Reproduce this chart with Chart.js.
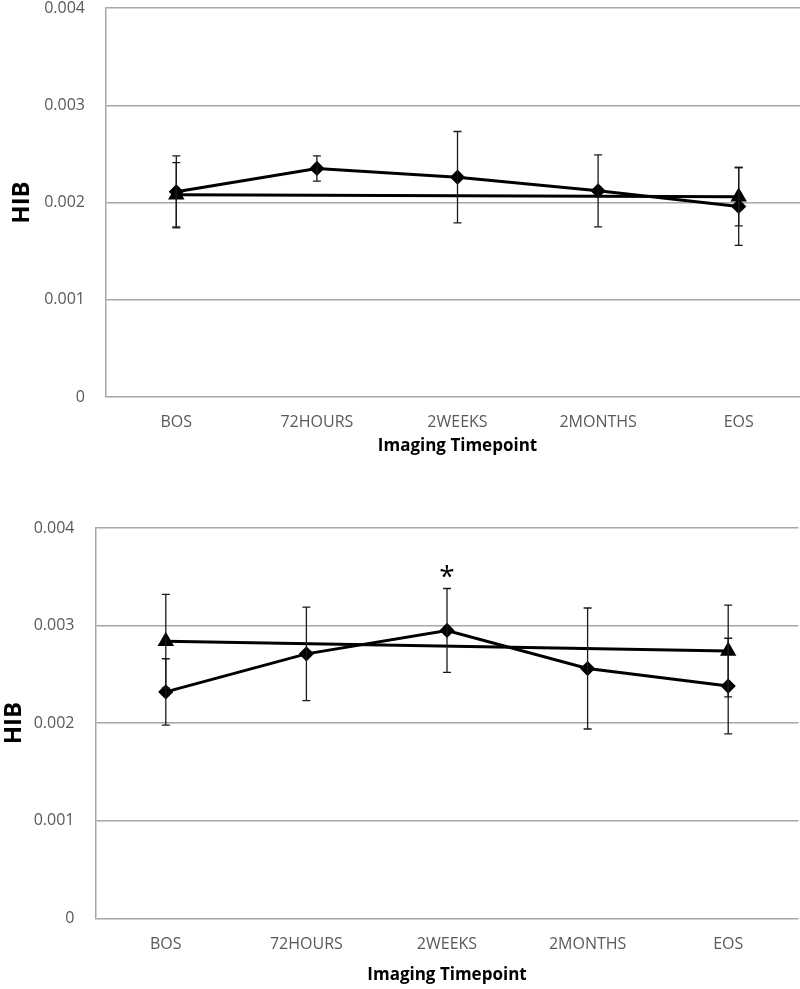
<!DOCTYPE html>
<html lang="en">

<head>
    <meta charset="UTF-8" />
    <title>HIB by imaging timepoint</title>
    <script src="https://cdn.jsdelivr.net/npm/chart.js"></script>
    <style>
        html, body {
            margin: 0;
            padding: 0;
            background: #ffffff;
            overflow: hidden;
        }

        .stage {
            position: relative;
            width: 800px;
            height: 989px;
            overflow: hidden;
        }

        #chartTop {
            position: absolute;
            left: 0;
            top: 0;
        }

        #chartBottom {
            position: absolute;
            left: 0;
            top: 495px;
        }
    </style>
</head>

<body>
    <div class="stage">
        <canvas id="chartTop" width="812" height="460"></canvas>
        <canvas id="chartBottom" width="800" height="494"></canvas>
    </div>

    <script>
        // categorias e valores
        const timepoints = ["BOS", "72HOURS", "2WEEKS", "2MONTHS", "EOS"];
        const yTicks = [0, 0.001, 0.002, 0.003, 0.004];

        // painel de cima
        const hibTop = [0.00211, 0.00235, 0.00226, 0.00212, 0.00196];
        const hibTopErr = [0.00037, 0.00013, 0.00047, 0.00037, 0.00040];
        const ctrlTop = [0.00208, null, null, null, 0.00206];
        const ctrlTopErr = [0.00033, null, null, null, 0.00030];

        // painel de baixo
        const hibBottom = [0.00232, 0.00271, 0.00295, 0.00256, 0.00238];
        const hibBottomErr = [0.00034, 0.00048, 0.00043, 0.00062, 0.00049];
        const ctrlBottom = [0.00284, null, null, null, 0.00274];
        const ctrlBottomErr = [0.00048, null, null, null, 0.00047];
        const sigBottom = ["", "", "*", "", ""];

        const FONT = "'Open Sans', 'Liberation Sans', sans-serif";

        // barras de erro (com "tampas") desenhadas pelas escalas do gráfico
        const errorBarsPlugin = {
            id: "errorBars",
            afterDatasetsDraw(chart) {
                const ctx = chart.ctx;
                const y = chart.scales.y;
                ctx.save();
                ctx.strokeStyle = "#1a1a1a";
                ctx.lineWidth = 1.3;
                chart.data.datasets.forEach((ds, i) => {
                    if (!ds.errors) return;
                    const meta = chart.getDatasetMeta(i);
                    ds.data.forEach((v, j) => {
                        const e = ds.errors[j];
                        if (v === null || e === null) return;
                        const x = meta.data[j].x;
                        const yHi = y.getPixelForValue(v + e);
                        const yLo = y.getPixelForValue(v - e);
                        ctx.beginPath();
                        ctx.moveTo(x, yHi);
                        ctx.lineTo(x, yLo);
                        ctx.moveTo(x - 4, yHi);
                        ctx.lineTo(x + 4, yHi);
                        ctx.moveTo(x - 4, yLo);
                        ctx.lineTo(x + 4, yLo);
                        ctx.stroke();
                    });
                });
                ctx.restore();
            }
        };

        // asterisco de significância acima da barra de erro
        const sigPlugin = {
            id: "sigMarks",
            afterDatasetsDraw(chart) {
                const marks = chart.options.plugins.sigMarks.marks;
                if (!marks) return;
                const ds = chart.data.datasets[0];
                const meta = chart.getDatasetMeta(0);
                const y = chart.scales.y;
                const ctx = chart.ctx;
                ctx.save();
                ctx.fillStyle = "#000";
                ctx.font = "28px " + FONT;
                ctx.textAlign = "center";
                ctx.textBaseline = "middle";
                marks.forEach((m, j) => {
                    if (!m) return;
                    const top = y.getPixelForValue(ds.data[j] + ds.errors[j]);
                    ctx.fillText(m, meta.data[j].x, top - 10);
                });
                ctx.restore();
            }
        };

        function makePanel(id, hib, hibErr, ctrl, ctrlErr, opts) {
            const ctx = document.getElementById(id).getContext("2d");
            return new Chart(ctx, {
                type: "line",
                data: {
                    labels: timepoints,
                    datasets: [{
                        label: "HIB",
                        data: hib,
                        errors: hibErr,
                        borderColor: "#000",
                        backgroundColor: "#000",
                        borderWidth: 3,
                        pointStyle: "rectRot",
                        pointRadius: 5.5,
                        tension: 0
                    }, {
                        label: "Control",
                        data: ctrl,
                        errors: ctrlErr,
                        borderColor: "#000",
                        backgroundColor: "#000",
                        borderWidth: 3,
                        pointStyle: "triangle",
                        pointRadius: 6.5,
                        spanGaps: true,
                        tension: 0
                    }]
                },
                options: {
                    responsive: false,
                    animation: false,
                    devicePixelRatio: 1,
                    layout: {
                        autoPadding: false,
                        padding: { top: opts.padTop, right: opts.padRight, left: 0, bottom: 0 }
                    },
                    plugins: {
                        legend: { display: false },
                        tooltip: { enabled: false },
                        sigMarks: { marks: opts.marks || null }
                    },
                    scales: {
                        x: {
                            offset: true,
                            grid: { display: false, drawTicks: false, offset: true },
                            border: { display: false },
                            ticks: {
                                color: "#595959",
                                font: { family: FONT, size: 16 },
                                padding: opts.xTickPad,
                                maxRotation: 0
                            },
                            title: {
                                display: true,
                                text: "Imaging Timepoint",
                                color: "#000",
                                font: { family: FONT, size: 17, weight: "bold" },
                                padding: { top: 4, bottom: 4 }
                            },
                            afterFit: (s) => {
                                s.height = opts.xHeight;
                                s.paddingLeft = 0;
                                s.paddingRight = 0;
                            }
                        },
                        y: {
                            min: yTicks[0],
                            max: yTicks[yTicks.length - 1],
                            afterBuildTicks: (s) => { s.ticks = yTicks.map(v => ({ value: v })); },
                            grid: { color: "#a6a6a6", lineWidth: 1.5, drawTicks: false },
                            border: { display: true, color: "#a6a6a6", width: 1.5 },
                            ticks: {
                                color: "#595959",
                                font: { family: FONT, size: 16 },
                                padding: 21,
                                callback: (v) => v === 0 ? "0" : v.toFixed(3)
                            },
                            title: {
                                display: true,
                                text: "HIB",
                                color: "#000",
                                font: { family: FONT, size: 24, weight: "bold" },
                                padding: { top: opts.yTitlePad, bottom: 0 }
                            },
                            afterFit: (s) => {
                                s.width = opts.yWidth;
                                s.paddingTop = 0;
                                s.paddingBottom = 0;
                            }
                        }
                    }
                },
                plugins: [errorBarsPlugin, sigPlugin]
            });
        }

        makePanel("chartTop", hibTop, hibTopErr, ctrlTop, ctrlTopErr, {
            padTop: 8, padRight: 3, xHeight: 63, xTickPad: 16, yWidth: 106, yTitlePad: 8
        });

        makePanel("chartBottom", hibBottom, hibBottomErr, ctrlBottom, ctrlBottomErr, {
            padTop: 33, padRight: 1.5, xHeight: 70.7, xTickPad: 17, yWidth: 95.5, yTitlePad: 0,
            marks: sigBottom
        });
    </script>
</body>

</html>
